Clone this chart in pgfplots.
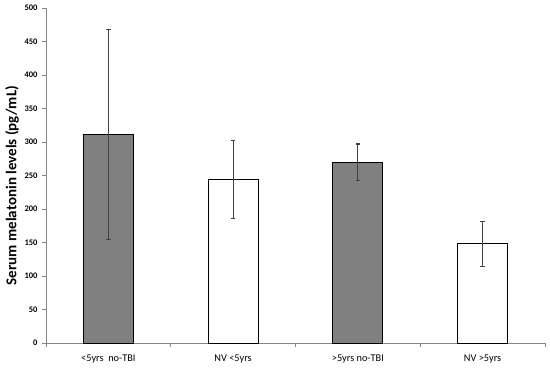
\documentclass[border=0pt]{standalone}
\usepackage{pgfplots}
\pgfplotsset{compat=1.18}
\usepackage{fontspec}
\setmainfont{Carlito}
\definecolor{axisgray}{HTML}{868686}
\definecolor{bargray}{HTML}{808080}
\definecolor{errgray}{HTML}{404040}
\begin{document}
\begin{tikzpicture}
\begin{axis}[
  scale only axis,
  width=499pt, height=335pt,
  ymin=0, ymax=500,
  ytick={0,50,...,500},
  xmin=-0.5, xmax=3.5,
  xtick={0,1,2,3},
  xticklabels={{<5yrs\ \ no-TBI},{NV <5yrs},{>5yrs no-TBI},{NV >5yrs}},
  minor xtick={-0.5,0.5,1.5,2.5,3.5},
  axis lines*=left,
  axis line style={axisgray, line width=0.8pt},
  tick align=outside,
  major tick length=4pt,
  minor tick length=4pt,
  major x tick style={draw=none},
  minor x tick style={axisgray, line width=0.8pt},
  major y tick style={axisgray, line width=0.8pt},
  /pgf/number format/assume math mode=true,
  yticklabel style={font=\fontsize{8.5}{10}\selectfont\bfseries, xshift=-1pt},
  xticklabel style={font=\fontsize{10.3}{12}\selectfont, yshift=-4pt},
  ylabel={Serum melatonin levels (pg/mL)},
  ylabel style={font=\fontsize{15}{17}\selectfont\bfseries,
    at={(axis description cs:-0.068,0.47)}, anchor=center, rotate=0},
  ybar, bar width=50pt, bar shift=0pt,
  clip=false,
]
\addplot[fill=bargray, draw=black, line width=1pt,
  error bars/.cd, y dir=both, y explicit,
  error bar style={errgray, line width=1.1pt},
  error mark options={rotate=90, mark size=2.2pt, errgray, line width=1.1pt}]
  coordinates {(0,311) +- (0,157) (2,270) +- (0,27)};
\addplot[fill=white, draw=black, line width=1pt,
  error bars/.cd, y dir=both, y explicit,
  error bar style={errgray, line width=1.1pt},
  error mark options={rotate=90, mark size=2.2pt, errgray, line width=1.1pt}]
  coordinates {(1,244) +- (0,58) (3,148) +- (0,34)};
\end{axis}
\pgfresetboundingbox
\path[use as bounding box] (-46pt,-25pt) rectangle (504pt,343pt);
\end{tikzpicture}
\end{document}
